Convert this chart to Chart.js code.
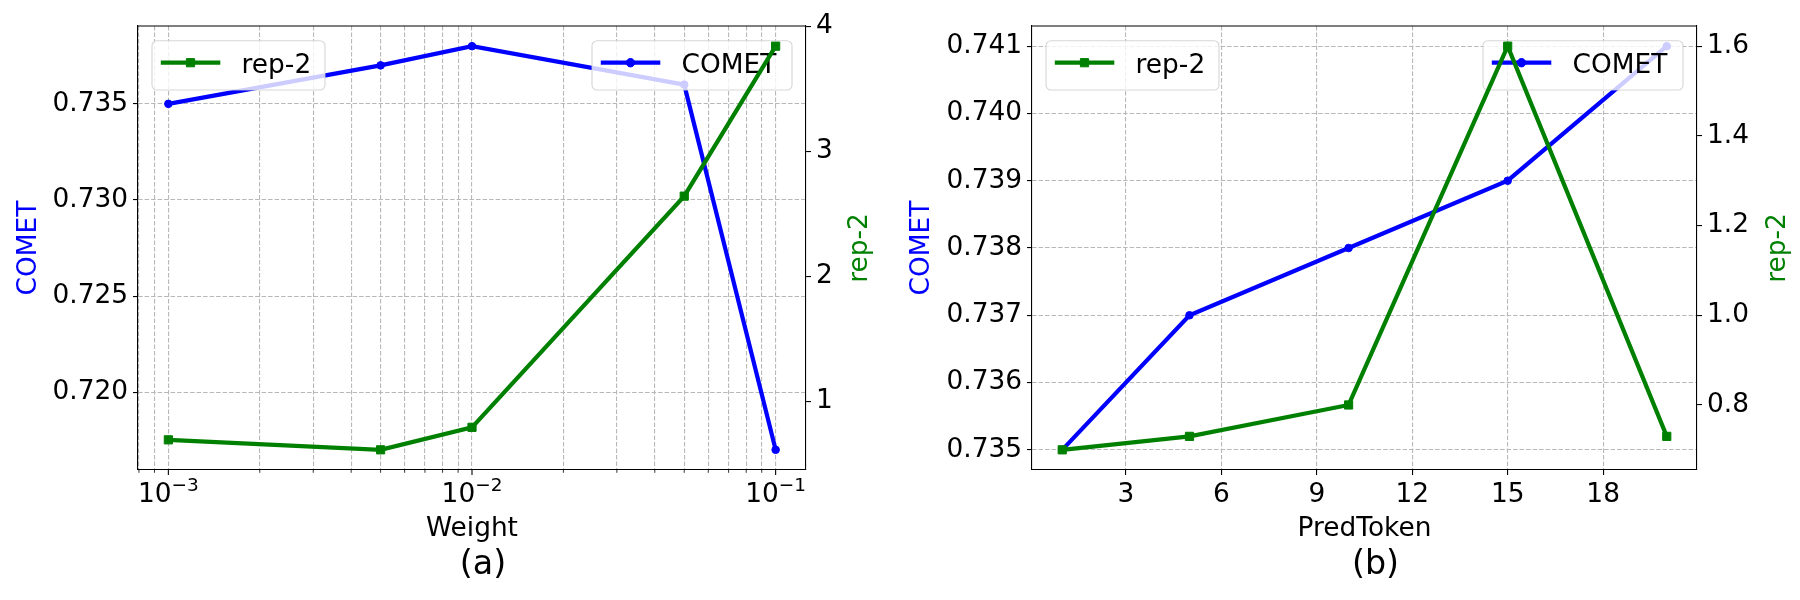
<!DOCTYPE html>
<html>
<head>
<meta charset="utf-8">
<script src="https://cdn.jsdelivr.net/npm/chart.js"></script>
<style>
html,body{margin:0;padding:0;background:#fff;width:1800px;height:600px;overflow:hidden}
canvas{position:absolute;top:0}
#c1{left:0}
#c2{left:900px}
</style>
</head>
<body>
<canvas id="c1" width="900" height="600"></canvas>
<canvas id="c2" width="900" height="600"></canvas>
<script>
// ---------- panel (a) data ----------
const weightValues = [0.001, 0.005, 0.01, 0.05, 0.1];
const cometA = [0.735, 0.737, 0.738, 0.736, 0.717];
const rep2A = [0.69, 0.61, 0.79, 2.64, 3.84];
const weightMajorTicks = [0.001, 0.01, 0.1];
const weightMajorLabels = [['10', '\u22123'], ['10', '\u22122'], ['10', '\u22121']];
const weightMinorTicks = [0.0008, 0.0009,
  0.002, 0.003, 0.004, 0.005, 0.006, 0.007, 0.008, 0.009,
  0.02, 0.03, 0.04, 0.05, 0.06, 0.07, 0.08, 0.09];
const cometTicksA = [0.720, 0.725, 0.730, 0.735];
const rep2TicksA = [1, 2, 3, 4];

// ---------- panel (b) data ----------
const predTokens = [1, 5, 10, 15, 20];
const cometB = [0.735, 0.737, 0.738, 0.739, 0.741];
const rep2B = [0.70, 0.73, 0.80, 1.60, 0.73];
const predTicks = [3, 6, 9, 12, 15, 18];
const cometTicksB = [0.735, 0.736, 0.737, 0.738, 0.739, 0.740, 0.741];
const rep2TicksB = [0.8, 1.0, 1.2, 1.4, 1.6];

// ---------- styling ----------
const BLUE = '#0000ff';
const GREEN = '#008000';
const GRID = '#b8b8b8';
const FONT = '"DejaVu Sans", "Liberation Sans", sans-serif';
const TICK_SIZE = 26.4;
Chart.defaults.font.family = FONT;
Chart.defaults.font.size = TICK_SIZE;
Chart.defaults.color = '#000';

function marginRange(vals, frac) {
  const lo = Math.min(...vals), hi = Math.max(...vals);
  const d = (hi - lo) * frac;
  return [lo - d, hi + d];
}
function logMarginRange(vals, frac) {
  const l = vals.map(v => Math.log10(v));
  const [a, b] = marginRange(l, frac);
  return [Math.pow(10, a), Math.pow(10, b)];
}

function yAxis(pos, ticksArr, fmt, range, width, onArea) {
  return {
    type: 'linear', position: pos, min: range[0], max: range[1],
    afterBuildTicks: s => { s.ticks = ticksArr.map(v => ({value: v})); },
    afterFit: s => { s.width = width; },
    ticks: {callback: v => fmt(v), padding: 5, autoSkip: false, color: '#000', font: {size: TICK_SIZE}},
    grid: {display: true, drawOnChartArea: onArea, color: GRID, lineWidth: 1.1,
      drawTicks: true, tickLength: 5, tickColor: '#000', tickWidth: 1.1, tickBorderDash: []},
    border: {display: true, color: '#000', width: 1.1, dash: [4.5, 2]}
  };
}

function roundRect(ctx, x, y, w, h, r) {
  ctx.beginPath();
  ctx.moveTo(x + r, y);
  ctx.lineTo(x + w - r, y);
  ctx.arcTo(x + w, y, x + w, y + r, r);
  ctx.lineTo(x + w, y + h - r);
  ctx.arcTo(x + w, y + h, x + w - r, y + h, r);
  ctx.lineTo(x + r, y + h);
  ctx.arcTo(x, y + h, x, y + h - r, r);
  ctx.lineTo(x, y + r);
  ctx.arcTo(x, y, x + r, y, r);
  ctx.closePath();
}

function drawMarker(ctx, style, color, x, y) {
  ctx.save();
  ctx.fillStyle = color; ctx.strokeStyle = color; ctx.lineWidth = 1;
  ctx.beginPath();
  if (style === 'circle') {
    ctx.arc(x, y, 4.2, 0, Math.PI * 2);
  } else {
    const s = 4.1;
    ctx.rect(x - s, y - s, 2 * s, 2 * s);
  }
  ctx.fill(); ctx.stroke();
  ctx.restore();
}

function drawLegend(ctx, x, y, w, label, color, style) {
  const h = 49.3;
  ctx.save();
  roundRect(ctx, x, y, w, h, 5);
  ctx.fillStyle = 'rgba(255,255,255,0.8)';
  ctx.fill();
  ctx.strokeStyle = 'rgba(204,204,204,0.8)';
  ctx.lineWidth = 1.1;
  ctx.stroke();
  const ly = y + 22;
  ctx.strokeStyle = color; ctx.lineWidth = 4.2; ctx.lineCap = 'butt';
  ctx.beginPath(); ctx.moveTo(x + 8.8, ly); ctx.lineTo(x + 68.3, ly); ctx.stroke();
  drawMarker(ctx, style, color, x + 38.5, ly);
  ctx.fillStyle = '#000';
  ctx.font = TICK_SIZE + 'px ' + FONT;
  ctx.textBaseline = 'alphabetic'; ctx.textAlign = 'left';
  ctx.fillText(label, x + 89.6, y + 32.6);
  ctx.restore();
}

function rotText(ctx, text, x, y, color, size) {
  ctx.save();
  ctx.translate(x, y);
  ctx.rotate(-Math.PI / 2);
  ctx.fillStyle = color;
  ctx.font = size + 'px ' + FONT;
  ctx.textAlign = 'center'; ctx.textBaseline = 'alphabetic';
  ctx.fillText(text, 0, 0);
  ctx.restore();
}
function hText(ctx, text, x, y, size) {
  ctx.save();
  ctx.fillStyle = '#000';
  ctx.font = size + 'px ' + FONT;
  ctx.textAlign = 'center'; ctx.textBaseline = 'alphabetic';
  ctx.fillText(text, x, y);
  ctx.restore();
}

function makePlugin(cfg) {
  return {
    id: 'panelDecor',
    afterDatasetDraw(chart, args) {
      if (args.index === 1) {
        const a = chart.chartArea;
        drawLegend(chart.ctx, a.right - 14 - 200, a.top + 14.7, 200, 'COMET', BLUE, 'circle');
      }
    },
    afterDatasetsDraw(chart) {
      const a = chart.chartArea;
      drawLegend(chart.ctx, a.left + 14, a.top + 14.7, 173, 'rep-2', GREEN, 'rect');
    },
    afterDraw(chart) {
      const ctx = chart.ctx, a = chart.chartArea;
      // top spine
      ctx.save();
      ctx.strokeStyle = '#000'; ctx.lineWidth = 1.1;
      ctx.beginPath(); ctx.moveTo(a.left, a.top); ctx.lineTo(a.right, a.top); ctx.stroke();
      ctx.restore();
      if (cfg.logTicks) {
        const xs = chart.scales.x;
        ctx.save();
        ctx.strokeStyle = '#000';
        weightMinorTicks.forEach(v => {
          const px = xs.getPixelForValue(v);
          ctx.lineWidth = 0.8;
          ctx.beginPath(); ctx.moveTo(px, a.bottom); ctx.lineTo(px, a.bottom + 2.8); ctx.stroke();
        });
        weightMajorTicks.forEach((v, i) => {
          const px = xs.getPixelForValue(v);
          ctx.lineWidth = 1.1;
          ctx.beginPath(); ctx.moveTo(px, a.bottom); ctx.lineTo(px, a.bottom + 4.9); ctx.stroke();
          const [base, sup] = weightMajorLabels[i];
          ctx.font = TICK_SIZE + 'px ' + FONT;
          const w1 = ctx.measureText(base).width;
          ctx.font = (TICK_SIZE * 0.7) + 'px ' + FONT;
          const w2 = ctx.measureText(sup).width;
          const x0 = px - (w1 + w2) / 2;
          ctx.fillStyle = '#000'; ctx.textAlign = 'left'; ctx.textBaseline = 'alphabetic';
          ctx.font = TICK_SIZE + 'px ' + FONT;
          ctx.fillText(base, x0, 501.5);
          ctx.font = (TICK_SIZE * 0.7) + 'px ' + FONT;
          ctx.fillText(sup, x0 + w1, 491.3);
        });
        ctx.restore();
      }
      // axis titles
      rotText(ctx, 'COMET', cfg.leftTitleX, 248, BLUE, TICK_SIZE);
      rotText(ctx, 'rep-2', cfg.rightTitleX, 248, GREEN, TICK_SIZE);
      hText(ctx, cfg.xTitle, (a.left + a.right) / 2, 536, TICK_SIZE);
      hText(ctx, cfg.caption, (a.left + a.right) / 2 + 11, 573.6, 33.3);
    }
  };
}

function lineDatasets(xs, comet, rep2) {
  return [
    {label: 'rep-2', yAxisID: 'y2', data: xs.map((x, i) => ({x: x, y: rep2[i]})),
      borderColor: GREEN, backgroundColor: GREEN, borderWidth: 4.2, tension: 0,
      pointStyle: 'rect', pointRadius: 5.8, pointBorderWidth: 1, pointBackgroundColor: GREEN, pointBorderColor: GREEN},
    {label: 'COMET', yAxisID: 'y', data: xs.map((x, i) => ({x: x, y: comet[i]})),
      borderColor: BLUE, backgroundColor: BLUE, borderWidth: 4.2, tension: 0,
      pointStyle: 'circle', pointRadius: 3.8, pointBorderWidth: 1, pointBackgroundColor: BLUE, pointBorderColor: BLUE}
  ];
}

const commonOpts = {
  responsive: false, animation: false, devicePixelRatio: 1, events: [],
  plugins: {legend: {display: false}, tooltip: {enabled: false}, title: {display: false}}
};

// ---------- chart (a) ----------
const xRangeA = logMarginRange(weightValues, 0.05);
new Chart(document.getElementById('c1'), {
  type: 'line',
  data: {datasets: lineDatasets(weightValues, cometA, rep2A)},
  options: Object.assign({}, commonOpts, {
    layout: {padding: {left: 8, right: 34, top: 26, bottom: 70}},
    scales: {
      x: {
        type: 'logarithmic', position: 'bottom', min: xRangeA[0], max: xRangeA[1],
        afterBuildTicks: s => { s.ticks = weightMinorTicks.concat(weightMajorTicks).sort((p, q) => p - q).map(v => ({value: v})); },
        afterFit: s => { s.height = 60; },
        ticks: {callback: () => '', autoSkip: false},
        grid: {display: true, drawOnChartArea: true, color: GRID, lineWidth: 1.1, drawTicks: false},
        border: {display: true, color: '#000', width: 1.1, dash: [4.5, 2]}
      },
      y: yAxis('left', cometTicksA, v => v.toFixed(3), marginRange(cometA, 0.05), 130, true),
      y2: yAxis('right', rep2TicksA, v => String(v), marginRange(rep2A, 0.05), 60, false)
    }
  }),
  plugins: [makePlugin({logTicks: true, leftTitleX: 35.5, rightTitleX: 866.5, xTitle: 'Weight', caption: '(a)'})]
});

// ---------- chart (b) ----------
new Chart(document.getElementById('c2'), {
  type: 'line',
  data: {datasets: lineDatasets(predTokens, cometB, rep2B)},
  options: Object.assign({}, commonOpts, {
    layout: {padding: {left: 8, right: 23, top: 26, bottom: 70}},
    scales: {
      x: {
        type: 'linear', position: 'bottom', min: marginRange(predTokens, 0.05)[0], max: marginRange(predTokens, 0.05)[1],
        afterBuildTicks: s => { s.ticks = predTicks.map(v => ({value: v})); },
        afterFit: s => { s.height = 60; },
        ticks: {callback: v => String(v), autoSkip: false, padding: 4, maxRotation: 0, color: '#000', font: {size: TICK_SIZE}},
        grid: {display: true, drawOnChartArea: true, color: GRID, lineWidth: 1.1,
          drawTicks: true, tickLength: 5, tickColor: '#000', tickWidth: 1.1, tickBorderDash: []},
        border: {display: true, color: '#000', width: 1.1, dash: [4.5, 2]}
      },
      y: yAxis('left', cometTicksB, v => v.toFixed(3), marginRange(cometB, 0.05), 124, true),
      y2: yAxis('right', rep2TicksB, v => v.toFixed(1), marginRange(rep2B, 0.05), 80, false)
    }
  }),
  plugins: [makePlugin({logTicks: false, leftTitleX: 28.5, rightTitleX: 884.5, xTitle: 'PredToken', caption: '(b)'})]
});
</script>
</body>
</html>
